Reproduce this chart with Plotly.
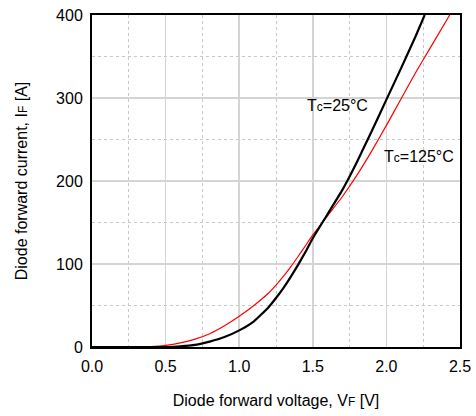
import plotly.graph_objects as go

# Tc = 25 °C (black)
v_25 = [0.0, 0.5, 0.6, 0.7, 0.8, 0.9, 1.0, 1.1, 1.2, 1.25, 1.3, 1.35, 1.4, 1.45, 1.5,
        1.6, 1.7, 1.8, 1.9, 2.0, 2.1, 2.2, 2.26]
i_25 = [0, 0, 0.8, 2.5, 6.5, 12, 20, 31, 48, 59, 71, 84.5, 99, 114.5, 131,
        160, 189, 223, 260, 298, 336, 375, 400]

# Tc = 125 °C (red)
v_125 = [0.0, 0.3, 0.4, 0.5, 0.6, 0.7, 0.8, 0.9, 1.0, 1.1, 1.2, 1.25, 1.3, 1.35,
         1.4, 1.45, 1.5, 1.6, 1.7, 1.8, 1.9, 2.0, 2.1, 2.2, 2.3, 2.43]
i_125 = [0, 0, 0.5, 2, 5, 9.5, 16, 25.5, 37, 50, 65, 74.5, 85, 96.5,
         109, 122, 135, 158, 181, 207, 236, 267, 299, 331, 361, 400]

x_ticks = [0.0, 0.5, 1.0, 1.5, 2.0, 2.5]
y_ticks = [0, 100, 200, 300, 400]

FONT = "Liberation Sans, Arial, sans-serif"
FS = 16
SM = 12

fig = go.Figure()
fig.add_trace(go.Scatter(x=v_125, y=i_125, mode="lines",
                         line=dict(color="#ff0000", width=1.2, shape="spline", smoothing=0.4),
                         showlegend=False, hoverinfo="skip"))
fig.add_trace(go.Scatter(x=v_25, y=i_25, mode="lines",
                         line=dict(color="#000000", width=2.2, shape="spline", smoothing=0.4),
                         showlegend=False, hoverinfo="skip"))

fig.add_annotation(x=1.67, y=291, text=f'T<span style="font-size:{SM}px">c</span>=25°C',
                   showarrow=False, font=dict(family=FONT, size=FS, color="#000"))
fig.add_annotation(x=2.22, y=229, text=f'T<span style="font-size:{SM}px">c</span>=125°C',
                   showarrow=False, font=dict(family=FONT, size=FS, color="#000"))

axis_common = dict(
    showline=True, linecolor="#000", linewidth=2, mirror=True,
    showgrid=True, gridcolor="#d4d4d4", gridwidth=1.5,
    zeroline=False, ticks="", layer="below traces", automargin=False,
    tickfont=dict(family=FONT, size=FS, color="#000"),
)

fig.update_xaxes(range=[0, 2.5], tickvals=x_ticks, tickformat=".1f", ticklabelstandoff=4,
                 minor=dict(dtick=0.25, showgrid=True, griddash="dot", gridcolor="#c8c8c8", gridwidth=1),
                 title=dict(text=f'Diode forward voltage, V<span style="font-size:{SM}px">F</span> [V]',
                            font=dict(family=FONT, size=FS, color="#000"), standoff=21),
                 **axis_common)
fig.update_yaxes(range=[0, 400], tickvals=y_ticks, ticklabelstandoff=4,
                 minor=dict(dtick=50, showgrid=True, griddash="dot", gridcolor="#c8c8c8", gridwidth=1),
                 title=dict(text=f'Diode forward current, I<span style="font-size:{SM}px">F</span> [A]',
                            font=dict(family=FONT, size=FS, color="#000"), standoff=24),
                 **axis_common)

fig.update_layout(width=476, height=416,
                  margin=dict(l=92, r=16, t=15, b=69),
                  paper_bgcolor="white", plot_bgcolor="white",
                  font=dict(family=FONT, size=FS, color="#000"))

fig.write_html("out.html", config={"displayModeBar": False, "staticPlot": True},
               post_script="document.body.style.margin='0px';document.body.style.overflow='hidden';")
